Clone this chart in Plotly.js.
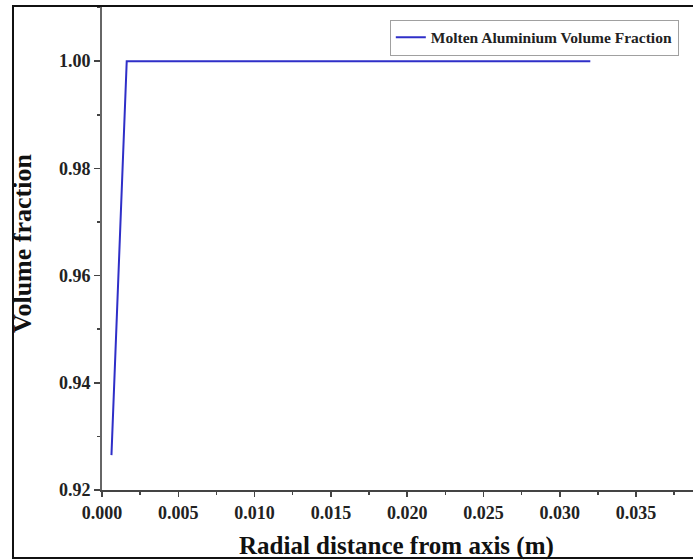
<!DOCTYPE html>
<html>
<head>
<meta charset="utf-8">
<script src="https://cdn.plot.ly/plotly-3.0.1.min.js"></script>
<style>html,body{margin:0;padding:0;background:#fff;}#chart{width:693px;height:560px;}</style>
</head>
<body>
<div id="chart"></div>
<script>
// Data
const radialDistance = [0.00062, 0.00162, 0.0320];
const volumeFraction = [0.9265, 1.0000, 1.0000];
const seriesName = "Molten Aluminium Volume Fraction";
const xTitle = "Radial distance from axis (m)";
const yTitle = "Volume fraction";

const serif = "Liberation Serif, Times New Roman, serif";

const trace = {
  x: radialDistance,
  y: volumeFraction,
  type: "scatter",
  mode: "lines",
  name: seriesName,
  line: {color: "#2f2fc8", width: 2},
  showlegend: true
};

const layout = {
  width: 693,
  height: 560,
  margin: {l: 102, r: 0, t: 7, b: 70},
  paper_bgcolor: "#ffffff",
  plot_bgcolor: "#ffffff",
  font: {family: serif, color: "#222"},
  showlegend: true,
  legend: {
    x: 0.976, xanchor: "right",
    y: 0.974, yanchor: "top",
    bgcolor: "#ffffff",
    bordercolor: "#a0a0a0",
    borderwidth: 1,
    font: {family: serif, size: 15.5, weight: "bold", color: "#222"},
    tracegroupgap: 0
  },
  xaxis: {
    range: [0, 0.03873],
    showgrid: false,
    zeroline: false,
    showline: true,
    linecolor: "#444",
    linewidth: 2,
    ticks: "outside",
    ticklen: 5,
    tickwidth: 1.5,
    tickcolor: "#444",
    dtick: 0.005,
    tick0: 0,
    tickformat: ".3f",
    tickfont: {family: serif, size: 18, weight: "bold", color: "#222"},
    minor: {dtick: 0.0025, ticks: "outside", ticklen: 3, tickcolor: "#444", tickwidth: 1.5}
  },
  yaxis: {
    range: [0.92, 1.0101],
    showgrid: false,
    zeroline: false,
    showline: true,
    linecolor: "#666",
    linewidth: 2,
    ticks: "outside",
    ticklen: 6,
    tickwidth: 1.5,
    tickcolor: "#444",
    dtick: 0.02,
    tick0: 0.92,
    tickformat: ".2f",
    tickfont: {family: serif, size: 18, weight: "bold", color: "#222"},
    minor: {dtick: 0.01, ticks: "outside", ticklen: 3, tickcolor: "#444", tickwidth: 1.5}
  },
  annotations: [
    {text: xTitle, xref: "paper", yref: "paper", x: 0.4975, y: -0.116,
     xanchor: "center", yanchor: "middle", showarrow: false,
     font: {family: serif, size: 25, weight: "bold", color: "#111"}},
    {text: yTitle, xref: "paper", yref: "paper", x: -0.1337, y: 0.5114,
     xanchor: "center", yanchor: "middle", showarrow: false, textangle: -90,
     font: {family: serif, size: 26, weight: "bold", color: "#111"}}
  ],
  shapes: [
    {type: "rect", xref: "paper", yref: "paper",
     x0: -0.1506, x1: 1.02, y0: -0.1408, y1: 1.002,
     line: {color: "#111", width: 2}, fillcolor: "rgba(0,0,0,0)", layer: "above"}
  ]
};

Plotly.newPlot("chart", [trace], layout, {displayModeBar: false, staticPlot: true});
</script>
</body>
</html>
